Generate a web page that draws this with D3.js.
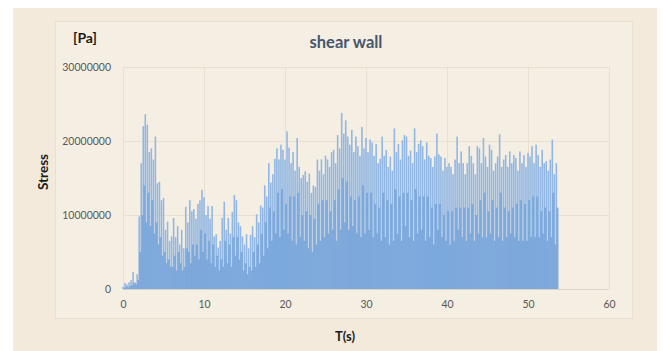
<!DOCTYPE html>
<html>
<head>
<meta charset="utf-8">
<script src="https://cdn.jsdelivr.net/npm/d3@7"></script>
<style>
  html, body { margin: 0; padding: 0; background: #ffffff; }
  svg { display: block; }
  text { font-family: Lato, "Open Sans", "Liberation Sans", sans-serif; }
</style>
</head>
<body>
<svg id="chart" width="664" height="351"></svg>
<script>
// Sampling step of the stress record, in seconds
const STEP = 0.25;

// Peak stress per step, in millions of Pa, t = 0 … 53.5 s
const peakStress = [
  0.3, 0.8, 0.6, 0.9, 1.2, 2.3, 0.9, 2.0,
  9.8, 17.0, 22.0, 23.6,
  22.2, 18.5, 19.0, 17.5,
  20.6, 14.3, 14.5, 12.0,
  12.3, 8.0, 9.1, 6.5,
  7.1, 9.6, 7.0, 8.5,
  6.0, 8.0, 5.5, 11.1,
  9.0, 12.0, 10.5, 10.8,
  9.5, 11.5, 12.0, 13.4,
  12.4, 10.0, 11.2, 9.5,
  11.2, 7.1, 7.4, 5.6,
  6.5, 9.6, 11.8, 8.0,
  9.6, 7.5, 10.4, 12.7,
  12.0, 9.0, 8.5, 7.1,
  6.0, 7.4, 5.5, 7.3,
  8.5, 7.0, 10.1, 9.0,
  11.3, 11.0, 14.0, 12.5,
  17.0, 14.4, 15.5, 17.6,
  19.0, 17.5, 19.5, 18.8,
  17.5, 21.3, 19.1, 17.0,
  18.5, 16.0, 20.4, 16.5,
  15.0, 15.4, 15.9, 14.5,
  15.6, 13.0, 14.0, 13.8,
  17.5, 16.0, 17.5, 15.5,
  18.0, 17.5, 16.5, 18.5,
  18.8, 17.0, 20.8, 19.0,
  23.8, 21.0, 22.8, 20.6,
  19.5, 21.5, 18.5, 20.6,
  19.3, 18.0, 21.9, 19.0,
  20.4, 18.5, 20.2, 19.8,
  18.0, 19.6, 17.0, 17.6,
  20.6, 18.0, 18.8, 16.5,
  17.9, 16.0, 21.7, 18.5,
  19.6, 17.5, 20.1, 20.8,
  20.6, 18.0, 18.7, 17.0,
  21.7, 18.5, 19.6, 20.1,
  19.3, 17.5, 19.8, 18.0,
  17.7, 16.5, 17.9, 21.0,
  18.2, 17.9, 16.0, 17.7,
  16.5, 17.0, 16.5, 15.5,
  17.5, 20.6, 17.0, 18.6,
  17.0, 15.5, 17.0, 19.3,
  18.0, 17.0, 15.5, 19.3,
  19.0, 17.0, 20.4, 17.9,
  16.5, 19.5, 18.8, 16.0,
  17.0, 17.9, 20.9, 16.5,
  17.5, 18.1, 16.5, 18.6,
  17.0, 18.1, 17.7, 16.0,
  18.6, 17.0, 18.1, 16.5,
  18.4, 17.9, 19.3, 17.0,
  19.5, 18.1, 16.5, 18.8,
  17.0, 17.3, 16.0, 17.5,
  20.2, 15.5, 17.0
];

// Stress between peaks (half a step later), in millions of Pa
const troughStress = [
  0.1, 0.3, 0.2, 0.4, 0.5, 0.8, 0.6, 1.2,
  5.0, 10.0, 14.0, 9.0,
  13.0, 8.5, 12.0, 7.5,
  9.0, 6.0, 7.0, 4.5,
  5.0, 3.5, 4.0, 3.0,
  3.0, 4.5, 2.5, 5.0,
  3.5, 2.5, 3.0, 5.5,
  5.0, 3.5, 6.0, 4.5,
  6.0, 4.0, 8.0, 5.0,
  7.5, 4.0, 6.5, 3.5,
  6.0, 3.0, 4.5, 2.5,
  4.0, 3.0, 6.5, 3.5,
  6.0, 3.0, 7.0, 4.5,
  7.0, 4.0, 5.0, 2.5,
  3.5, 2.0, 3.0, 2.5,
  5.0, 3.0, 6.0, 3.5,
  7.5, 4.5, 9.0, 5.5,
  11.0, 6.5, 10.5, 7.5,
  13.0, 7.0, 13.5, 8.0,
  11.5, 7.5, 12.5, 6.5,
  12.5, 6.0, 13.0, 7.0,
  10.0, 6.5, 10.5, 5.5,
  10.0, 5.0, 9.5, 6.0,
  11.5, 6.5, 12.0, 7.0,
  12.0, 7.5, 10.5, 8.0,
  12.0, 6.5, 13.5, 8.0,
  15.0, 9.0, 14.5, 8.0,
  12.5, 8.5, 12.0, 7.5,
  12.5, 7.0, 14.0, 7.5,
  13.0, 8.0, 13.0, 7.0,
  11.5, 7.5, 11.0, 6.5,
  13.0, 7.0, 12.0, 6.0,
  11.5, 6.5, 13.5, 7.5,
  12.5, 6.5, 13.0, 8.5,
  13.0, 7.0, 12.0, 6.5,
  13.5, 7.5, 12.5, 8.0,
  12.5, 6.5, 12.5, 7.0,
  11.0, 6.0, 11.5, 8.0,
  11.5, 7.0, 10.0, 6.5,
  10.5, 6.0, 10.5, 6.5,
  11.0, 8.0, 11.0, 7.0,
  11.0, 6.5, 11.0, 7.5,
  11.5, 6.5, 10.0, 7.5,
  12.0, 7.0, 13.0, 7.0,
  10.5, 7.5, 12.0, 6.5,
  11.0, 7.0, 13.0, 6.5,
  11.0, 7.0, 10.5, 7.5,
  11.0, 7.0, 11.5, 6.5,
  12.0, 6.5, 11.5, 6.5,
  12.0, 7.0, 12.5, 7.0,
  12.5, 7.0, 10.5, 7.5,
  11.0, 6.5, 10.5, 7.0,
  13.0, 6.0, 11.0
];

const xTicks = [0, 10, 20, 30, 40, 50, 60];
const yTicks = [0, 10000000, 20000000, 30000000];

const title = "shear wall";
const unitLabel = "[Pa]";
const xLabel = "T(s)";
const yLabel = "Stress";

const svg = d3.select("#chart");

// Page and chart-area panels
svg.append("rect").attr("x", 13).attr("y", 8).attr("width", 644).attr("height", 343)
  .attr("fill", "#f3eadc");
svg.append("rect").attr("x", 55.5).attr("y", 21.5).attr("width", 577).attr("height", 297)
  .attr("fill", "#f5eee2").attr("stroke", "#e8e0d2").attr("stroke-width", 1);

const x = d3.scaleLinear().domain([0, 60]).range([123, 609]);
const y = d3.scaleLinear().domain([0, 30000000]).range([289, 67]);

// Gridlines
svg.append("g").selectAll("line").data(yTicks.slice(1)).join("line")
  .attr("x1", x(0)).attr("x2", x(60))
  .attr("y1", d => Math.round(y(d)) + 0.5).attr("y2", d => Math.round(y(d)) + 0.5)
  .attr("stroke", "#e9e0d1").attr("stroke-width", 1);
svg.append("g").selectAll("line").data(xTicks).join("line")
  .attr("x1", d => Math.round(x(d)) + 0.5).attr("x2", d => Math.round(x(d)) + 0.5)
  .attr("y1", y(30000000)).attr("y2", y(0))
  .attr("stroke", "#e9e0d1").attr("stroke-width", 1);

// Stress spikes: thin light peaks behind, denser body in front
const peaks = peakStress.map((v, i) => ({ t: i * STEP, v: v * 1e6 }));
const troughs = troughStress.map((v, i) => ({ t: i * STEP + STEP / 2, v: v * 1e6 }));
const stepPx = x(STEP) - x(0);

svg.append("g").selectAll("rect").data(peaks).join("rect")
  .attr("x", d => x(d.t) - 0.8)
  .attr("width", 1.6)
  .attr("y", d => y(d.v))
  .attr("height", d => y(0) - y(d.v))
  .attr("fill", "#92b7e3");

svg.append("g").selectAll("rect").data(troughs).join("rect")
  .attr("x", d => x(d.t) - stepPx / 2)
  .attr("width", stepPx + 0.1)
  .attr("y", d => y(d.v))
  .attr("height", d => y(0) - y(d.v))
  .attr("fill", "#78a5da").attr("fill-opacity", 0.9);

// Baseline
svg.append("line").attr("x1", x(0)).attr("x2", x(60))
  .attr("y1", Math.round(y(0)) + 0.5).attr("y2", Math.round(y(0)) + 0.5)
  .attr("stroke", "#d8d2c8").attr("stroke-width", 1);

// Axes
const xAxis = svg.append("g").attr("transform", `translate(0,${y(0)})`)
  .call(d3.axisBottom(x).tickValues(xTicks).tickSize(0).tickPadding(12).tickFormat(d3.format("d")));
const yAxis = svg.append("g").attr("transform", `translate(${x(0)},0)`)
  .call(d3.axisLeft(y).tickValues(yTicks).tickSize(0).tickPadding(12).tickFormat(d3.format("d")));
[xAxis, yAxis].forEach(g => {
  g.select(".domain").remove();
  g.selectAll("text").attr("fill", "#595959").attr("font-size", "10.5px")
    .style("font-family", "Lato, 'Open Sans', sans-serif");
});

// Titles
svg.append("text").attr("x", 346).attr("y", 48).attr("text-anchor", "middle")
  .attr("font-size", "16.5px").attr("font-weight", "bold").attr("fill", "#46566e").text(title);
svg.append("text").attr("x", 73).attr("y", 43)
  .attr("font-size", "14px").attr("font-weight", "bold").attr("fill", "#1a1a1a").text(unitLabel);
svg.append("text").attr("x", 345).attr("y", 341).attr("text-anchor", "middle")
  .attr("font-size", "13px").attr("font-weight", "bold").attr("fill", "#1a1a1a").text(xLabel);
svg.append("text").attr("transform", "translate(48,172) rotate(-90)").attr("text-anchor", "middle")
  .attr("font-size", "13.5px").attr("font-weight", "bold").attr("fill", "#1a1a1a").text(yLabel);
</script>
</body>
</html>
